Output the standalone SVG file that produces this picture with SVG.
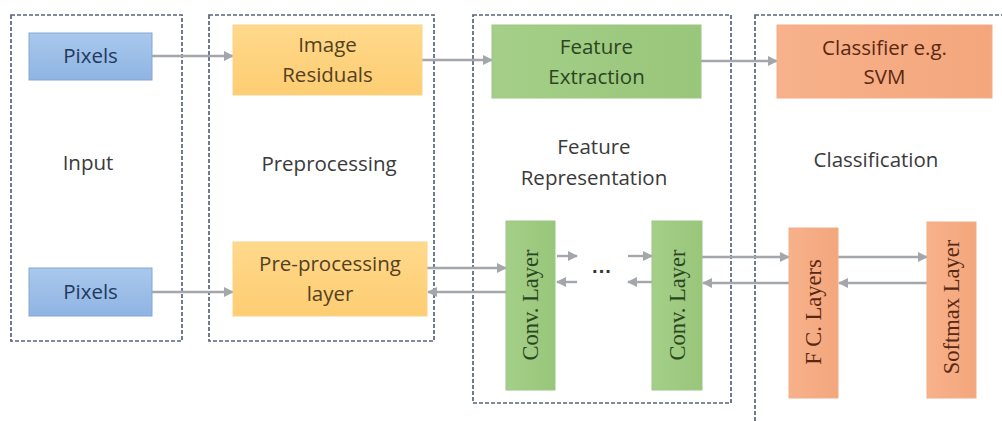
<svg xmlns="http://www.w3.org/2000/svg" width="1002" height="421" viewBox="0 0 1002 421">
  <defs>
    <linearGradient id="gBlue" x1="0" y1="0" x2="0" y2="1">
      <stop offset="0" stop-color="#a9c8ec"/>
      <stop offset="1" stop-color="#8fb4e3"/>
    </linearGradient>
    <linearGradient id="gOrange" x1="0" y1="0" x2="0" y2="1">
      <stop offset="0" stop-color="#ffd98c"/>
      <stop offset="1" stop-color="#fdcd72"/>
    </linearGradient>
    <linearGradient id="gGreen" x1="0" y1="0" x2="1" y2="0">
      <stop offset="0" stop-color="#a5cf88"/>
      <stop offset="1" stop-color="#98c67a"/>
    </linearGradient>
    <linearGradient id="gSalmon" x1="0" y1="0" x2="1" y2="0">
      <stop offset="0" stop-color="#f7b28b"/>
      <stop offset="1" stop-color="#f4a67c"/>
    </linearGradient>
    <marker id="ah" viewBox="0 0 10 10" refX="9" refY="5" markerWidth="4.2" markerHeight="4.2" orient="auto-start-reverse" markerUnits="strokeWidth">
      <path d="M0,0 L10,5 L0,10 z" fill="#a3a6aa"/>
    </marker>
    <style>
      .stage { fill: none; stroke: #56647a; stroke-width: 1.7; stroke-dasharray: 4 2; }
      .lbl { font-family: "Open Sans", "Liberation Sans", sans-serif; font-size: 20.5px; text-anchor: middle; fill: #3a3a3a; }
      .ntxt { font-family: "Open Sans", "Liberation Sans", sans-serif; font-size: 20.5px; text-anchor: middle; }
      .vtxt { font-family: "Liberation Serif", "Times New Roman", serif; font-size: 22.5px; text-anchor: middle; }
      .blue rect { fill: url(#gBlue); stroke: #86a7d2; stroke-width: 1; }
      .blue text { fill: #22395e; }
      .orange rect { fill: url(#gOrange); stroke: #f8d48e; stroke-width: 1; }
      .orange text { fill: #54401f; }
      .green rect { fill: url(#gGreen); stroke: #9cc684; stroke-width: 1; }
      .green text { fill: #2b451f; }
      .salmon rect { fill: url(#gSalmon); stroke: #f1ae88; stroke-width: 1; }
      .salmon text { fill: #5a2812; }
      .conn line { stroke: #a3a6aa; stroke-width: 2.4; marker-end: url(#ah); }
    </style>
  </defs>

  <rect width="1002" height="421" fill="#ffffff"/>

  <!-- stage frames and their captions -->
  <g id="stages">
    <rect class="stage" x="11" y="15" width="171" height="326"/>
    <rect class="stage" x="209" y="15" width="225" height="326"/>
    <rect class="stage" x="473" y="15" width="258" height="388"/>
    <rect class="stage" x="755" y="15" width="260" height="420"/>
    <text class="lbl" x="88" y="170">Input</text>
    <text class="lbl" x="329" y="171">Preprocessing</text>
    <text class="lbl" x="594" y="154">Feature</text>
    <text class="lbl" x="594" y="185">Representation</text>
    <text class="lbl" x="876" y="167">Classification</text>
  </g>

  <!-- connectors -->
  <g id="connectors" class="conn">
    <line x1="152" y1="56" x2="233" y2="56"/>
    <line x1="422" y1="60" x2="492" y2="60"/>
    <line x1="701" y1="61" x2="777" y2="61"/>

    <line x1="152" y1="292" x2="233" y2="292"/>
    <line x1="427" y1="268" x2="506" y2="268"/>
    <line x1="506" y1="292" x2="428" y2="292"/>

    <line x1="557" y1="256" x2="577" y2="256"/>
    <line x1="577" y1="282" x2="557" y2="282"/>
    <line x1="628" y1="256" x2="652" y2="256"/>
    <line x1="652" y1="282" x2="628" y2="282"/>

    <line x1="702" y1="257" x2="789" y2="257"/>
    <line x1="789" y1="283" x2="703" y2="283"/>
    <line x1="838" y1="257" x2="927" y2="257"/>
    <line x1="927" y1="283" x2="839" y2="283"/>
  </g>

  <!-- nodes -->
  <g id="pixels-top" class="blue">
    <rect x="29" y="33" width="123" height="47"/>
    <text class="ntxt" x="90.5" y="63">Pixels</text>
  </g>
  <g id="pixels-bottom" class="blue">
    <rect x="29" y="268" width="123" height="48"/>
    <text class="ntxt" x="90.5" y="299">Pixels</text>
  </g>
  <g id="image-residuals" class="orange">
    <rect x="233" y="25" width="189" height="70"/>
    <text class="ntxt" x="327.5" y="52">Image</text>
    <text class="ntxt" x="327.5" y="82">Residuals</text>
  </g>
  <g id="preprocessing-layer" class="orange">
    <rect x="233" y="242" width="194" height="74"/>
    <text class="ntxt" x="330" y="271">Pre-processing</text>
    <text class="ntxt" x="330" y="301">layer</text>
  </g>
  <g id="feature-extraction" class="green">
    <rect x="492" y="25" width="209" height="73"/>
    <text class="ntxt" x="596.5" y="54">Feature</text>
    <text class="ntxt" x="596.5" y="84">Extraction</text>
  </g>
  <g id="classifier" class="salmon">
    <rect x="777" y="25" width="215" height="73"/>
    <text class="ntxt" x="884.5" y="55">Classifier e.g.</text>
    <text class="ntxt" x="884.5" y="84">SVM</text>
  </g>
  <g id="conv-layer-1" class="green">
    <rect x="506" y="221" width="49" height="169"/>
    <text class="vtxt" transform="translate(538,305) rotate(-90)">Conv. Layer</text>
  </g>
  <g id="ellipsis">
    <text x="602" y="278" font-family="Liberation Sans, sans-serif" font-size="20" font-weight="bold" text-anchor="middle" fill="#333">···</text>
  </g>
  <g id="conv-layer-2" class="green">
    <rect x="652" y="221" width="50" height="169"/>
    <text class="vtxt" transform="translate(685,305) rotate(-90)">Conv. Layer</text>
  </g>
  <g id="fc-layers" class="salmon">
    <rect x="789" y="228" width="49" height="170"/>
    <text class="vtxt" transform="translate(821,312) rotate(-90)">F C. Layers</text>
  </g>
  <g id="softmax-layer" class="salmon">
    <rect x="927" y="222" width="49" height="176"/>
    <text class="vtxt" transform="translate(959,307) rotate(-90)">Softmax Layer</text>
  </g>
</svg>
